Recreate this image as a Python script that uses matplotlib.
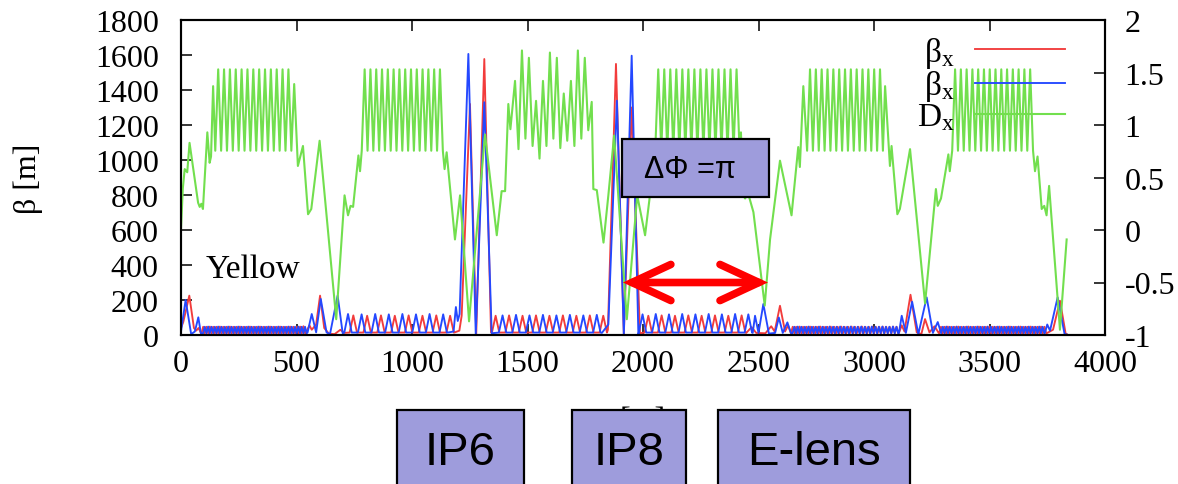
import numpy as np
import matplotlib
matplotlib.use("Agg")
import matplotlib.pyplot as plt
from matplotlib.patches import Rectangle

plt.rcParams["font.family"] = ["Liberation Serif", "DejaVu Serif"]
plt.rcParams["mathtext.fontset"] = "custom"
plt.rcParams["mathtext.rm"] = "Liberation Serif"
plt.rcParams["mathtext.it"] = "Liberation Serif"
plt.rcParams["axes.unicode_minus"] = False

# ---------------- axis scales and labels ----------------
S_TICKS = [0, 500, 1000, 1500, 2000, 2500, 3000, 3500, 4000]
BETA_TICKS = [0, 200, 400, 600, 800, 1000, 1200, 1400, 1600, 1800]
DX_TICKS = [-1, -0.5, 0, 0.5, 1, 1.5, 2]
DX_TICK_LABELS = ["-1", "-0.5", "0", "0.5", "1", "1.5", "2"]
SERIES_LABELS = [r"β$_{\rm x}$", r"β$_{\rm x}$", r"D$_{\rm x}$"]
RING_NAME = "Yellow"
BOX_LABELS = ["IP6", "IP8", "E-lens"]
PHASE_LABEL = "ΔΦ =π"
PHASE_SPAN = (1913, 2541)      # s [m] covered by the phase-advance arrow
PHASE_LEVEL = -0.5             # Dx-axis level of the arrow

# ---------------- beta_x (first curve) ----------------
# straight-section knots: (s [m], beta [m])
BX1_STRAIGHT = [
    [(0, 40), (10, 75), (36, 225), (56, 40), (66, 25), (76, 40), (86, 12)],
    [(540, 12), (556, 55), (566, 30), (585, 60), (602, 225), (620, 40), (640, 8),
     (665, 5), (690, 30), (705, 12)],
    [(1185, 15), (1205, 25), (1215, 110), (1251, 1320), (1278, 5), (1313, 1577),
     (1342, 15)],
    [(1848, 30), (1883, 1549), (1917, 5), (1951, 1300), (1987, 10)],
    [(2447, 12), (2470, 45), (2490, 12), (2530, 10), (2555, 50), (2570, 20),
     (2593, 167), (2615, 20), (2628, 55), (2640, 12)],
    [(3108, 12), (3120, 55), (3132, 20), (3158, 230), (3185, 15), (3205, 5),
     (3221, 91), (3240, 15), (3262, 50), (3280, 12)],
    [(3750, 12), (3775, 30), (3805, 196), (3830, 5), (3834, 5)],
]
# arc cells: (first peak s, last peak s, half width, floor, peak values)
BX1_ARCS = [
    (96, 530, 7.2, 10, [47, 47, 48, 47, 47, 48, 47, 47, 48, 47, 47, 48, 47, 47, 48, 47,
                        47, 48, 47, 47, 48, 47, 47, 48, 47, 47, 48, 47, 47, 48, 50]),
    (746, 1165, 16, 14, [112, 110, 112, 110, 112, 110, 112, 110]),
    (1362, 1828, 16, 14, [110, 112, 110, 112, 110, 112, 110, 112, 110]),
    (2023, 2427, 16, 14, [110, 112, 110, 112, 110, 112, 110, 112]),
    (2648, 3098, 7.5, 10, [47, 47, 48, 47, 47, 48, 47, 47, 48, 47, 47, 48, 47, 47, 48, 47,
                           47, 48, 47, 47, 48, 47, 47, 48, 47, 47, 48, 47, 47, 48, 47]),
    (3290, 3738, 7.5, 10, [47, 47, 48, 47, 47, 48, 47, 47, 48, 47, 47, 48, 47, 47, 48, 47,
                           47, 48, 47, 47, 48, 47, 47, 48, 47, 47, 48, 47, 47, 48, 47]),
]

# ---------------- beta_x (second curve) ----------------
BX2_STRAIGHT = [
    [(0, 20), (20, 200), (44, 5), (60, 20), (75, 101), (86, 10)],
    [(548, 15), (566, 120), (585, 15), (605, 206), (630, 15), (645, 5), (678, 225),
     (700, 10)],
    [(1160, 15), (1180, 20), (1190, 160), (1198, 80), (1206, 120), (1244, 1606),
     (1276, 3), (1313, 1330), (1345, 10)],
    [(1822, 12), (1850, 60), (1887, 1339), (1917, 3), (1951, 1596), (1980, 5)],
    [(2475, 12), (2485, 110), (2500, 12), (2521, 177), (2545, 8), (2572, 12),
     (2588, 100), (2605, 12), (2625, 72), (2640, 12)],
    [(3108, 12), (3120, 110), (3138, 12), (3165, 190), (3192, 5), (3228, 215),
     (3255, 12), (3276, 74), (3290, 12)],
    [(3740, 12), (3750, 60), (3762, 25), (3795, 215), (3825, 5), (3834, 3)],
]
BX2_ARCS = [
    (103, 537, 7.2, 10, [47, 48, 47, 47, 48, 47, 47, 48, 47, 47, 48, 47, 47, 48, 47, 47,
                         48, 47, 47, 48, 47, 47, 48, 47, 47, 48, 47, 47, 48, 47, 47]),
    (723, 1135, 16, 14, [120, 118, 120, 118, 120, 118, 120, 118]),
    (1392, 1800, 16, 14, [112, 115, 112, 115, 112, 115, 112, 115]),
    (1998, 2456, 16, 14, [118, 120, 118, 120, 118, 120, 118, 120, 118]),
    (2655, 3097, 7.6, 10, [47, 48, 47, 47, 48, 47, 47, 48, 47, 47, 48, 47, 47, 48, 47,
                           47, 48, 47, 47, 48, 47, 47, 48, 47, 47, 48, 47, 47, 48, 47]),
    (3298, 3730, 7.4, 10, [47, 48, 47, 47, 48, 47, 47, 48, 47, 47, 48, 47, 47, 48, 47,
                           47, 48, 47, 47, 48, 47, 47, 48, 47, 47, 48, 47, 47, 48, 47]),
]

# ---------------- horizontal dispersion D_x [m] ----------------
DX_STRAIGHT = [
    [(0, 0.01), (8, 0.40), (16, 0.58), (27, 0.55), (37, 0.83), (74, 0.26), (81, 0.22),
     (88, 0.25), (95, 0.20), (114, 0.93), (124, 0.64), (130, 0.70), (139, 1.37)],
    [(490, 1.39), (506, 0.61), (528, 0.80), (550, 0.15), (564, 0.20), (600, 0.85),
     (672, -0.85), (708, 0.33), (723, 0.14), (734, 0.23), (745, 0.22), (768, 0.71),
     (775, 0.56)],
    [(1141, 0.58), (1150, 0.74), (1186, -0.09), (1208, 0.33), (1247, -0.87),
     (1316, 0.91), (1367, -0.05), (1388, 0.37), (1403, 0.37), (1417, 1.20),
     (1426, 0.96), (1446, 1.42), (1461, 0.77), (1476, 1.71), (1491, 0.87),
     (1506, 1.64), (1522, 0.80), (1537, 1.23), (1552, 0.68), (1567, 1.42),
     (1582, 0.80), (1597, 1.69), (1612, 0.87), (1627, 1.64), (1642, 0.78),
     (1657, 1.30), (1672, 0.85), (1688, 1.42), (1703, 0.80), (1718, 1.71),
     (1733, 0.87), (1748, 1.64), (1763, 0.95), (1778, 1.22), (1785, 0.39),
     (1800, 0.38), (1829, -0.12), (1850, 0.33), (1875, 0.90), (1930, -0.85),
     (1975, 0.33), (2009, -0.05), (2030, 0.33), (2045, 0.74)],
    [(2424, 0.93), (2434, 0.33), (2442, 0.30), (2455, 0.35), (2478, 0.17),
     (2527, -0.72), (2550, -0.09), (2593, 0.66), (2643, 0.14), (2672, 0.79),
     (2679, 0.60), (2694, 1.37)],
    [(3048, 1.37), (3069, 0.61), (3076, 0.80), (3101, 0.15), (3112, 0.20),
     (3156, 0.77), (3221, -0.70), (3268, 0.39), (3276, 0.23), (3290, 0.30),
     (3322, 0.72), (3328, 0.56)],
    [(3697, 0.56), (3708, 0.70), (3726, 0.20), (3737, 0.23), (3747, 0.14),
     (3758, 0.42), (3805, -0.95), (3834, -0.09)],
]
# FODO arcs: (first maximum s, last maximum s, minimum value, maxima)
DX_ARCS = [
    (161, 465, 0.755, [1.53, 1.53, 1.53, 1.53, 1.53, 1.53, 1.53, 1.53, 1.53, 1.53,
                       1.53, 1.53, 1.53]),
    (795, 1121, 0.755, [1.53, 1.53, 1.53, 1.53, 1.53, 1.53, 1.53, 1.53, 1.53, 1.53,
                        1.53, 1.53, 1.53, 1.53]),
    (2066, 2405, 0.755, [1.53, 1.53, 1.53, 1.53, 1.53, 1.53, 1.53, 1.53, 1.53, 1.53,
                         1.53, 1.53, 1.53, 1.53]),
    (2723, 3026, 0.755, [1.53, 1.53, 1.53, 1.53, 1.53, 1.53, 1.53, 1.53, 1.53, 1.53,
                         1.53, 1.53, 1.53]),
    (3351, 3676, 0.755, [1.53, 1.53, 1.53, 1.53, 1.53, 1.53, 1.53, 1.53, 1.53, 1.53,
                         1.53, 1.53, 1.53, 1.53]),
]


def beta_curve(straights, arcs):
    s, v = [], []
    for i, seg in enumerate(straights):
        s += [p[0] for p in seg]
        v += [p[1] for p in seg]
        if i < len(arcs):
            first, last, half, floor, peaks = arcs[i]
            for pos, pk in zip(np.linspace(first, last, len(peaks)), peaks):
                s += [pos - half, pos, pos + half]
                v += [floor, pk, floor]
    return np.array(s), np.array(v)


def dispersion_curve(straights, arcs):
    s, v = [], []
    for i, seg in enumerate(straights):
        s += [p[0] for p in seg]
        v += [p[1] for p in seg]
        if i < len(arcs):
            first, last, low, tops = arcs[i]
            pos = np.linspace(first, last, len(tops))
            step = (last - first) / (len(tops) - 1)
            for p, top in zip(pos, tops):
                s += [p - step / 2, p]
                v += [low, top]
            s.append(last + step / 2)
            v.append(low)
    return np.array(s), np.array(v)


s1, b1 = beta_curve(BX1_STRAIGHT, BX1_ARCS)
s2, b2 = beta_curve(BX2_STRAIGHT, BX2_ARCS)
sd, dx = dispersion_curve(DX_STRAIGHT, DX_ARCS)

W, H = 1178, 485
fig = plt.figure(figsize=(W / 100, H / 100), dpi=100)
ax = fig.add_axes([181 / W, 1 - 336 / H, 924 / W, 315 / H])
ax2 = ax.twinx()

RED, BLUE, GREEN = "#f23c3c", "#2448ff", "#72df4e"
l1, = ax.plot(s1, b1, color=RED, lw=1.35)
l2, = ax.plot(s2, b2, color=BLUE, lw=1.35)
l3, = ax2.plot(sd, dx, color=GREEN, lw=1.5)

ax.set_xlim(0, 4000)
ax.set_ylim(0, 1800)
ax2.set_ylim(-1, 2)
ax.set_xticks(S_TICKS)
ax.set_yticks(BETA_TICKS)
ax2.set_yticks(DX_TICKS)
ax2.set_yticklabels(DX_TICK_LABELS)

for a in (ax, ax2):
    for sp in a.spines.values():
        sp.set_linewidth(1.5)
ax.tick_params(axis="x", direction="in", length=8, width=1.1, top=True,
               labelsize=23, pad=10)
ax.tick_params(axis="y", direction="in", length=8, width=1.1, right=False,
               labelsize=23, pad=16)
ax2.tick_params(axis="y", direction="in", length=8, width=1.1,
                labelsize=23, pad=14)

ax.set_ylabel("β [m]", fontsize=23)
ax.yaxis.set_label_coords(-0.149, 0.5)
ax.set_xlabel("[m]", fontsize=23, labelpad=20)

ax.text(108, 331, RING_NAME, fontsize=24, va="baseline", ha="left")

leg = ax2.legend([l1, l2, l3], SERIES_LABELS, loc="upper right",
                 bbox_to_anchor=(1065 / W, 1 - 36 / H), bbox_transform=fig.transFigure,
                 frameon=False, markerfirst=False, fontsize=24, handlelength=2.7,
                 handletextpad=0.6, labelspacing=-0.05, borderpad=0, borderaxespad=0)

# phase-advance arrow between IP8 and the electron lens
ax2.annotate("", xy=(PHASE_SPAN[0], PHASE_LEVEL), xytext=(PHASE_SPAN[1], PHASE_LEVEL),
             arrowprops=dict(arrowstyle="<->,head_length=2.8,head_width=1.3",
                             color="red", lw=5.5, shrinkA=0, shrinkB=0,
                             capstyle="round", joinstyle="miter"))

# label boxes drawn over the figure in pixel coordinates
ov = fig.add_axes([0, 0, 1, 1], zorder=5)
ov.set_xlim(0, W)
ov.set_ylim(H, 0)
ov.axis("off")
BOX_FILL = "#9e9cdc"
sans = ["Liberation Sans", "DejaVu Sans"]
ov.add_patch(Rectangle((622, 140), 147, 58, fc=BOX_FILL, ec="black", lw=1.6))
ov.text(690, 170, PHASE_LABEL, fontsize=22, family=sans, ha="center", va="center")
for (x0, x1), lab in zip([(397, 524), (572, 686), (718, 910)], BOX_LABELS):
    ov.add_patch(Rectangle((x0, 411), x1 - x0, 100, fc=BOX_FILL, ec="black", lw=1.6,
                           clip_on=False))
    ov.text((x0 + x1) / 2, 453, lab, fontsize=34, family=sans, ha="center", va="center")

fig.savefig("out.png", dpi=100)
